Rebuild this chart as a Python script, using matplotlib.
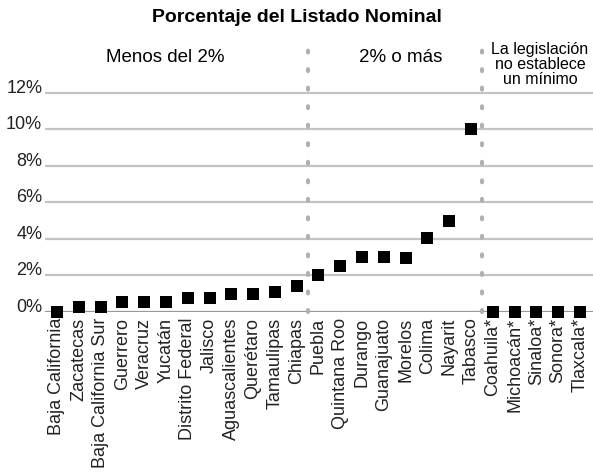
import matplotlib
matplotlib.use("Agg")
import matplotlib.pyplot as plt

plt.rcParams['font.family'] = ['Liberation Sans', 'DejaVu Sans']

grp_low = ["Baja California", "Zacatecas", "Baja California Sur", "Guerrero", "Veracruz",
           "Yucatán", "Distrito Federal", "Jalisco", "Aguascalientes", "Querétaro",
           "Tamaulipas", "Chiapas"]
val_low = [0.0, 0.28, 0.28, 0.57, 0.57, 0.57, 0.75, 0.75, 1.0, 1.0, 1.07, 1.4]
grp_high = ["Puebla", "Quintana Roo", "Durango", "Guanajuato", "Morelos", "Colima",
            "Nayarit", "Tabasco"]
val_high = [2.0, 2.5, 3.0, 3.0, 2.95, 4.05, 5.0, 10.0]
grp_none = ["Coahuila*", "Michoacán*", "Sinaloa*", "Sonora*", "Tlaxcala*"]
val_none = [0.0, 0.0, 0.0, 0.0, 0.0]

section_labels = ["Menos del 2%", "2% o más", "La legislación\nno establece\nun mínimo"]
yticks = [0, 2, 4, 6, 8, 10, 12]
ytick_labels = ["0%", "2%", "4%", "6%", "8%", "10%", "12%"]
title = "Porcentaje del Listado Nominal"

names = grp_low + grp_high + grp_none
values = val_low + val_high + val_none
x = list(range(len(names)))

W, H = 593, 473
fig = plt.figure(figsize=(W / 100, H / 100), dpi=100)
ax = fig.add_axes([45 / W, 1 - 312 / H, 1 - 45 / W, (312 - 49) / H])
ax.set_xlim(-0.55, len(names) - 1 + 0.6)
ax.set_ylim(0, 14.4)

for yt in yticks:
    ax.axhline(yt, color="#999999" if yt == 0 else "#c4c4c4", lw=1.6, zorder=1)

b1 = len(grp_low) - 0.5
b2 = len(grp_low) + len(grp_high) - 0.5
for b in (b1, b2):
    ax.plot([b, b], [0, 14.4], color="#b0b0b0", lw=2.9,
            linestyle=(0, (0.5, 4.1)), dash_capstyle="round", zorder=2, clip_on=False)

ax.scatter(x, values, marker="s", s=8.0 ** 2, color="black", zorder=3,
           clip_on=False, linewidths=0)

ax.set_xticks(x)
ax.set_xticklabels(names, rotation=90, fontsize=13, va="top", ha="center")
ax.set_yticks(yticks)
ax.set_yticklabels(ytick_labels, fontsize=13)
for lbl in ax.get_yticklabels():
    lbl.set_va("baseline")
ax.tick_params(axis="both", length=0, colors="#222222")
ax.tick_params(axis="x", pad=4)
ax.tick_params(axis="y", pad=2)
for s in ax.spines.values():
    s.set_visible(False)

fig.text(0.5, 1 - 18 / H, title, ha="center", va="center", fontsize=14, fontweight="bold")

def px2x(px):
    return (px - 57) / ((580 - 57) / (len(names) - 1))

ax.text(px2x(165), 14.4 - (57 - 49) / 18.25, section_labels[0], ha="center", va="center",
        fontsize=13.5)
ax.text(px2x(401), 14.4 - (57 - 49) / 18.25, section_labels[1], ha="center", va="center",
        fontsize=13.5)
ax.text(px2x(540), 14.4 - (64 - 49) / 18.25, section_labels[2], ha="center", va="center",
        fontsize=11.5, linespacing=1.0)

fig.savefig("out.png", dpi=100, facecolor="white")
